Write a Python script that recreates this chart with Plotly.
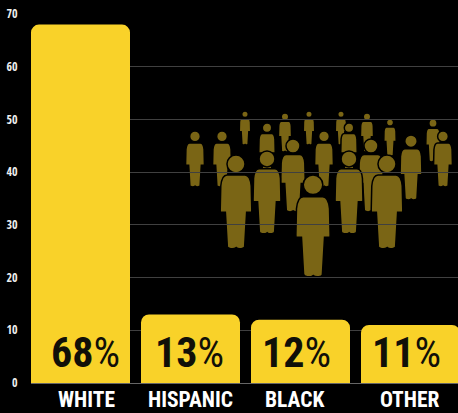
import plotly.graph_objects as go

categories = ["WHITE", "HISPANIC", "BLACK", "OTHER"]
shares = [68, 13, 12, 11]
y_ticks = [0, 10, 20, 30, 40, 50, 60, 70]

W, H = 458, 413
M_L, M_R, M_T, M_B = 31, 0, 14, 30
BAND = 110.0
X0 = -49.5 / BAND
X1 = X0 + (W - M_L - M_R) / BAND
PX_PER_Y = (H - M_T - M_B) / 70

TICK_FONT = "Open Sans Condensed, Roboto Condensed, sans-serif"
LABEL_FONT = "Roboto Condensed, Open Sans Condensed, sans-serif"
GOLD = "#f9d229"
CROWD = "#7a6515"

# Horizontal nudges (px) and label heights (px from the top of the page)
name_dx = [5.5, -0.5, -6.5, -0.5]
name_y = [400, 400, 400, 399]
pct_dx = [4.5, -1.5, -4.5, -4.5]

# Crowd silhouettes, back to front: centre x, head top, feet (page px)
crowd = [
    (245, 111, 145), (267, 123, 172), (285, 113, 152), (309, 111, 145),
    (341, 111, 145), (349, 123, 172), (367, 113, 152), (390, 119, 156),
    (433, 119, 162), (195, 131, 187), (222, 131, 187), (324, 131, 187),
    (443, 131, 187), (411, 135, 200), (293, 139, 212), (371, 139, 212),
    (267, 151, 234), (349, 151, 234), (236, 155, 249), (387, 155, 249),
    (313, 175, 277),
]


def to_x(px):
    return X0 + (px - M_L) / BAND


def to_y(py):
    return (H - M_B - py) / PX_PER_Y


def person_path(cx, top, foot):
    h = foot - top
    pts = []

    def p(u, v):
        return f"{to_x(cx + u * h):.4f},{to_y(top + v * h):.3f}"

    # Head as four arcs
    r, hc = 0.096, 0.096
    k = r * 0.55
    pts += [
        f"M{p(-r, hc)}",
        f"C{p(-r, hc - k)} {p(-k, hc - r)} {p(0, hc - r)}",
        f"C{p(k, hc - r)} {p(r, hc - k)} {p(r, hc)}",
        f"C{p(r, hc + k)} {p(k, hc + r)} {p(0, hc + r)}",
        f"C{p(-k, hc + r)} {p(-r, hc + k)} {p(-r, hc)}Z",
    ]
    # Torso, arms and legs
    pts += [
        f"M{p(-0.095, 0.213)}",
        f"L{p(0.095, 0.213)}",
        f"C{p(0.135, 0.213)} {p(0.155, 0.26)} {p(0.162, 0.33)}",
        f"L{p(0.168, 0.585)}",
        f"L{p(0.167, 0.61)}",
        f"L{p(0.113, 0.61)}",
        f"L{p(0.092, 0.975)}",
        f"C{p(0.09, 0.995)} {p(0.03, 1.01)} {p(0.002, 0.985)}",
        f"C{p(-0.03, 1.01)} {p(-0.09, 0.995)} {p(-0.092, 0.975)}",
        f"L{p(-0.113, 0.61)}",
        f"L{p(-0.167, 0.61)}",
        f"L{p(-0.168, 0.585)}",
        f"L{p(-0.162, 0.33)}",
        f"C{p(-0.155, 0.26)} {p(-0.135, 0.213)} {p(-0.095, 0.213)}Z",
    ]
    return "".join(pts)


fig = go.Figure(
    go.Bar(
        x=list(range(len(categories))),
        y=shares,
        width=0.9,
        marker=dict(color=GOLD, cornerradius=8, line_width=0),
        hoverinfo="skip",
    )
)

for cx, top, foot in crowd:
    fig.add_shape(
        type="path",
        path=person_path(cx, top, foot),
        xref="x",
        yref="y",
        layer="below",
        fillcolor=CROWD,
        line=dict(color="#000000", width=1.5),
    )

for i, (name, share) in enumerate(zip(categories, shares)):
    fig.add_annotation(
        x=i, y=5.8, xref="x", yref="y", text=f"<b>{share}</b>%", showarrow=False,
        xshift=pct_dx[i], yanchor="middle",
        font=dict(family=LABEL_FONT, size=42, color="#111008"),
    )
    fig.add_annotation(
        x=i, xref="x", y=1 - (name_y[i] - M_T) / (H - M_T - M_B), yref="paper",
        text=f"<b>{name}</b>", showarrow=False, xshift=name_dx[i], yanchor="middle",
        font=dict(family=LABEL_FONT, size=21.5, color="#ffffff"),
    )

fig.update_layout(
    width=W,
    height=H,
    margin=dict(l=M_L, r=M_R, t=M_T, b=M_B, autoexpand=False),
    paper_bgcolor="#000000",
    plot_bgcolor="#000000",
    showlegend=False,
    xaxis=dict(range=[X0, X1], visible=False),
    yaxis=dict(
        range=[0, 70],
        tickvals=y_ticks,
        gridcolor="#404040",
        gridwidth=1,
        zeroline=True,
        zerolinecolor="#666666",
        zerolinewidth=1,
        ticks="outside",
        ticklen=10,
        tickcolor="#000000",
        tickfont=dict(family=TICK_FONT, size=12, color="#eeeeee"),
    ),
)

fig.write_html("out.html", config={"displayModeBar": False})
